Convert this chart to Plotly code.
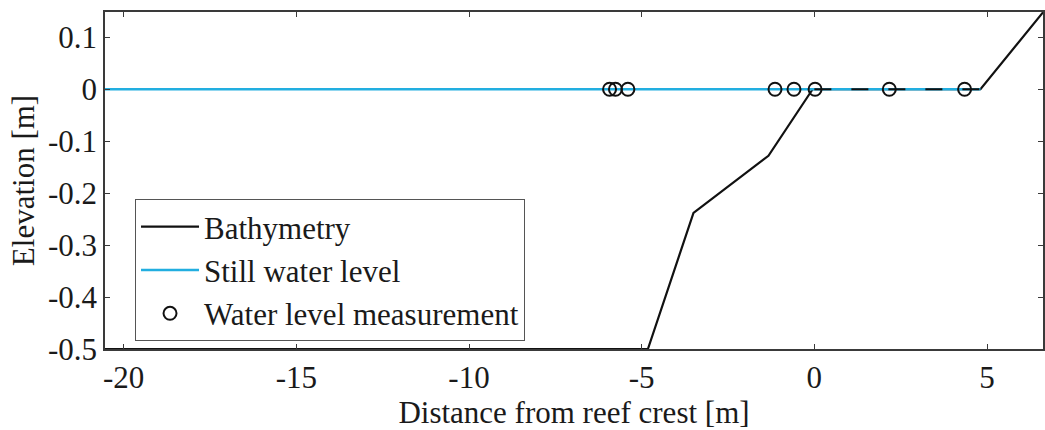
import plotly.graph_objects as go

# Reef profile (distance from reef crest [m], elevation [m])
bathy_x = [-20.54, -4.82, -3.50, -1.33, -0.05, 4.81, 6.62]
bathy_y = [-0.50, -0.50, -0.238, -0.128, 0.0, 0.0, 0.148]

# Reef flat portion of the profile (drawn dashed over the water line)
flat_x = [0.0, 4.81]
flat_y = [0.0, 0.0]

# Still water level
swl_x = [-20.54, 4.81]
swl_y = [0.0, 0.0]

# Water level gauge positions
gauge_x = [-5.93, -5.76, -5.40, -1.14, -0.59, 0.02, 2.17, 4.35]
gauge_y = [0, 0, 0, 0, 0, 0, 0, 0]

x_ticks = [-20, -15, -10, -5, 0, 5]
x_labels = ["-20", "-15", "-10", "-5", "0", "5"]
y_ticks = [0.1, 0, -0.1, -0.2, -0.3, -0.4, -0.5]
y_labels = ["0.1", "0", "-0.1", "-0.2", "-0.3", "-0.4", "-0.5"]

FONT = "Liberation Serif, Times New Roman, serif"
FS = 31
AXIS = "#3a3a3a"

fig = go.Figure()
fig.add_trace(go.Scatter(
    x=bathy_x, y=bathy_y, mode="lines", name="Bathymetry",
    line=dict(color="#111111", width=2.2),
))
fig.add_trace(go.Scatter(
    x=swl_x, y=swl_y, mode="lines", name="Still water level",
    line=dict(color="#22aee0", width=2.6),
))
fig.add_trace(go.Scatter(
    x=flat_x, y=flat_y, mode="lines", showlegend=False,
    line=dict(color="#111111", width=2.2, dash="17px,20px"),
))
fig.add_trace(go.Scatter(
    x=gauge_x, y=gauge_y, mode="markers", name="Water level measurement",
    marker=dict(symbol="circle-open", size=13, color="#111111",
                line=dict(width=2, color="#111111")),
))

fig.update_layout(
    width=1045, height=430,
    margin=dict(l=105, r=0, t=12, b=81),
    paper_bgcolor="white", plot_bgcolor="white",
    font=dict(family=FONT, size=FS, color="#1a1a1a"),
    showlegend=True,
    legend=dict(
        x=0.032, y=0.445, xanchor="left", yanchor="top",
        bgcolor="white", bordercolor="#555555", borderwidth=1,
        font=dict(family=FONT, size=FS, color="#1a1a1a"),
        tracegroupgap=0, itemwidth=58,
    ),
    xaxis=dict(
        range=[-20.54, 6.62], tickvals=x_ticks, ticktext=x_labels,
        ticks="inside", ticklen=5, tickcolor=AXIS, tickwidth=1,
        showline=True, linecolor=AXIS, linewidth=1.5, mirror="ticks",
        showgrid=False, zeroline=False,
        title=dict(text="Distance from reef crest [m]", standoff=0,
                   font=dict(family=FONT, size=FS)),
        tickfont=dict(family=FONT, size=FS),
    ),
    yaxis=dict(
        range=[-0.5, 0.1487], tickvals=y_ticks, ticktext=y_labels,
        ticks="inside", ticklen=5, tickcolor=AXIS, tickwidth=1,
        showline=True, linecolor=AXIS, linewidth=1.5, mirror="ticks",
        showgrid=False, zeroline=False,
        title=dict(text="Elevation [m]", standoff=4,
                   font=dict(family=FONT, size=FS)),
        tickfont=dict(family=FONT, size=FS),
    ),
)

fig.write_html("out.html")
